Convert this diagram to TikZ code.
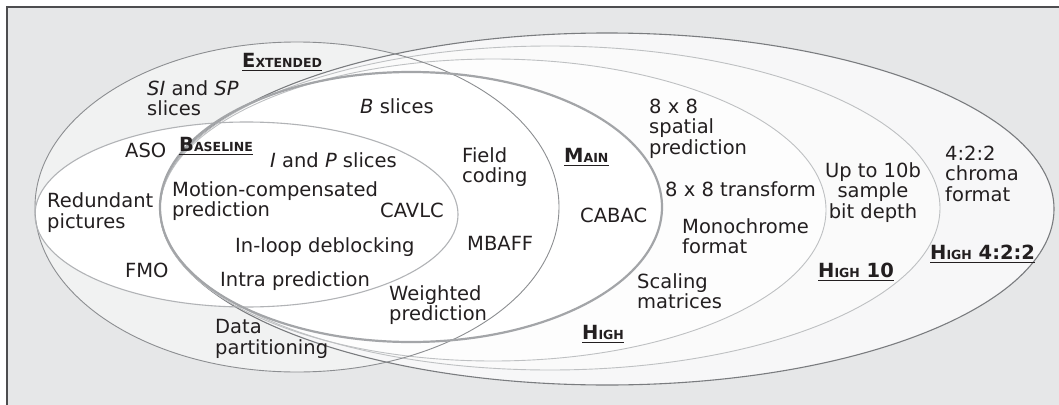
\documentclass[tikz,border=0pt]{standalone}
\usepackage{fontspec}
\setmainfont{DejaVu Sans}
\definecolor{bgcol}{HTML}{E6E7E8}
\definecolor{extfill}{HTML}{F1F2F2}
\definecolor{hfillA}{HTML}{F7F7F8}
\definecolor{hfillB}{HTML}{FAFAFA}
\definecolor{hfillC}{HTML}{FDFDFD}
\definecolor{extline}{HTML}{8C8E91}
\definecolor{baseln}{HTML}{B1B3B6}
\definecolor{mainline}{HTML}{A3A5A8}
\definecolor{highline}{HTML}{BEC0C2}
\definecolor{outerline}{HTML}{7A7C7F}
\definecolor{framecol}{HTML}{4D4D4F}
\definecolor{tcol}{HTML}{231F20}
\newcommand{\lblbig}{\fontsize{19.5}{19.5}\selectfont}
\newcommand{\lblsmall}{\fontsize{12.5}{12.5}\selectfont}
\begin{document}
\begin{tikzpicture}[x=1pt,y=-1pt,
  txt/.style={font=\fontsize{19.5}{20.5}\selectfont, text=tcol, inner sep=0pt, align=left, anchor=base west},
  ctxt/.style={txt, align=center, anchor=base},
  lbl/.style={font=\bfseries, text=tcol, inner sep=0pt, anchor=base west},
  uline/.style={draw=tcol, line width=1.8pt}]
\useasboundingbox (0,0) rectangle (1059,404);
\clip (0,0) rectangle (1059,404);
% frame
\draw[draw=framecol, line width=1.2pt, fill=bgcol] (7,7) rectangle (1080,430);
% fills
\fill[extfill] (297,207) ellipse [x radius=262pt, y radius=165pt];
\fill[hfillA] (607,209) ellipse [x radius=447pt, y radius=176pt];
\fill[hfillB] (550,208) ellipse [x radius=390pt, y radius=162pt];
\fill[hfillC] (493,210) ellipse [x radius=333pt, y radius=151pt];
\fill[white] (246.5,214.5) ellipse [x radius=211.5pt, y radius=92.5pt];
\fill[white] (411,207) ellipse [x radius=251pt, y radius=135pt];
% strokes
\draw[outerline, line width=1.1pt] (607,209) ellipse [x radius=447pt, y radius=176pt];
\draw[highline, line width=0.9pt] (550,208) ellipse [x radius=390pt, y radius=162pt];
\draw[highline, line width=0.9pt] (493,210) ellipse [x radius=333pt, y radius=151pt];
\draw[extline, line width=0.9pt] (297,207) ellipse [x radius=262pt, y radius=165pt];
\draw[baseln, line width=1.1pt] (246.5,214.5) ellipse [x radius=211.5pt, y radius=92.5pt];
\draw[mainline, line width=2.2pt] (411,207) ellipse [x radius=251pt, y radius=135pt];
% profile labels
\node[lbl] (ext) at (242,67) {\lblbig E\lblsmall XTENDED};
\node[lbl] (bas) at (179,151) {\lblbig B\lblsmall ASELINE};
\node[lbl] (mai) at (564,162) {\lblbig M\lblsmall AIN};
\node[lbl] (hig) at (582,339) {\lblbig H\lblsmall IGH};
\node[lbl] (h10) at (818,277) {\lblbig H\lblsmall IGH\lblbig\ 10};
\node[lbl] (h42) at (930,259) {\lblbig H\lblsmall IGH\lblbig\ 4:2:2};
\foreach \n in {ext,bas,mai,hig,h10,h42}
  \draw[uline] ([yshift=-3.5pt]\n.base west) -- ([yshift=-3.5pt]\n.base east);
% features (multi-line nodes anchored at the baseline of their last line)
\node[txt] (sisp) at (147,115.5) {\textit{SI} and \textit{SP}\\slices};
\node[txt] (bsl) at (360,113) {\textit{B} slices};
\node[txt] (aso) at (125,157) {ASO};
\node[txt] (ip) at (270,167) {\textit{I} and \textit{P} slices};
\node[txt] (mcp) at (172,216.5) {Motion-compensated\\prediction};
\node[txt] (red) at (47,228) {Redundant\\pictures};
\node[txt] (cavlc) at (380,217) {CAVLC};
\node[txt] (ild) at (235,252) {In-loop deblocking};
\node[txt] (fmo) at (125,277) {FMO};
\node[txt] (intra) at (220,286) {Intra prediction};
\node[txt] (dp) at (215,354) {Data\\partitioning};
\node[txt] (fc) at (462,182.5) {Field\\coding};
\node[txt] (cabac) at (580,222) {CABAC};
\node[txt] (mbaff) at (467,250) {MBAFF};
\node[txt] (wp) at (389,320.5) {Weighted\\prediction};
\node[txt] (sm) at (637,308.5) {Scaling\\matrices};
\node[txt] (sp) at (649,154) {8 x 8\\spatial\\prediction};
\node[txt] (tr) at (665,196) {8 x 8 transform};
\node[txt] (mono) at (682,253.5) {Monochrome\\format};
\node[ctxt] (bd) at (873,218) {Up to 10b\\sample\\bit depth};
\node[txt] (chroma) at (945,201) {4:2:2\\chroma\\format};
\end{tikzpicture}
\end{document}
